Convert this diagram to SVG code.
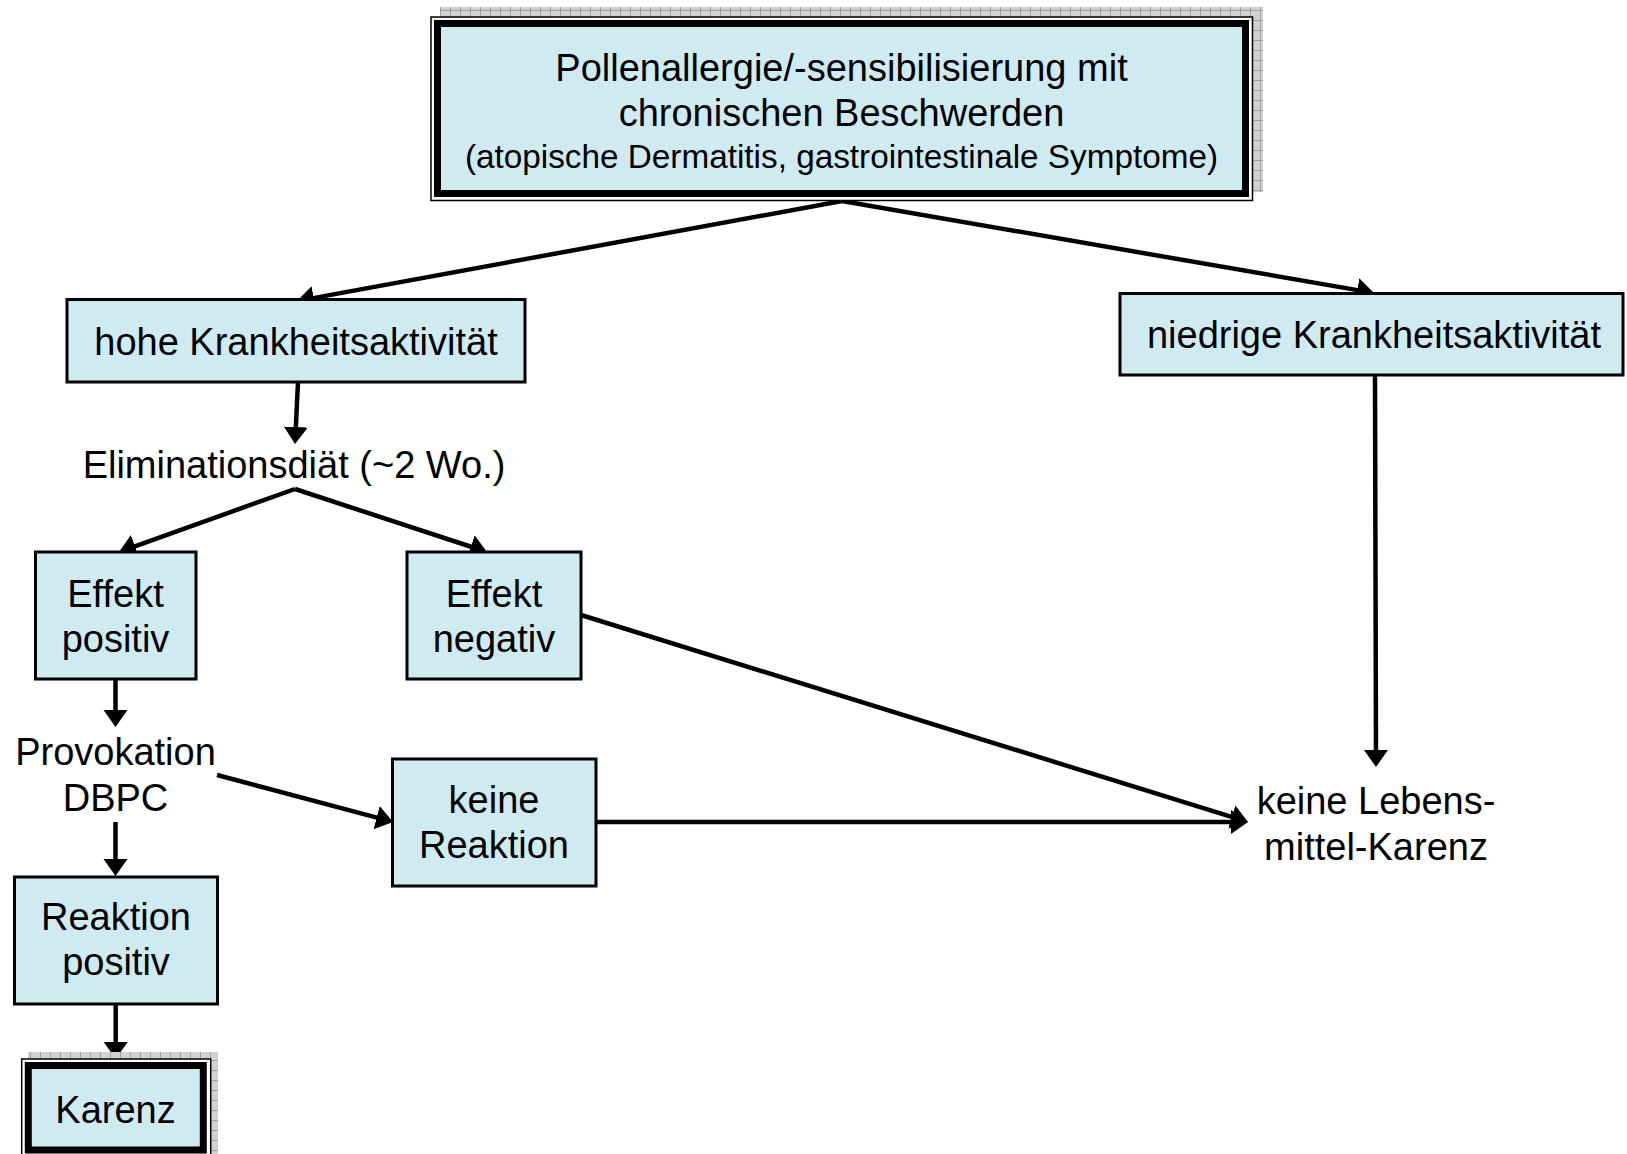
<svg xmlns="http://www.w3.org/2000/svg" width="1627" height="1154" viewBox="0 0 1627 1154">
  <style>
    .box { fill: #CFEBF1; stroke: #000; stroke-width: 3; }
    .thick { fill: #CFEBF1; stroke: #000; stroke-width: 7; }
    .frame { fill: #fff; stroke: #000; stroke-width: 1.5; }
    .shadow { fill: url(#hatch); }
    .t { font-family: "Liberation Sans", Arial, sans-serif; font-size: 38px; fill: #000; text-anchor: middle; }
    .small { font-size: 33.3px; }
    .conn line { stroke: #000; stroke-width: 4.5; marker-end: url(#arrow); }
  </style>
  <defs>
    <pattern id="hatch" width="10" height="10" patternUnits="userSpaceOnUse">
      <rect width="10" height="10" fill="#d2d2d2"/>
      <path d="M0,0.5 H10 M0.5,0 V10" stroke="#a0a0a0" stroke-width="1"/>
    </pattern>
    <marker id="arrow" markerUnits="userSpaceOnUse" markerWidth="18" markerHeight="26" refX="9" refY="12" orient="auto">
      <path d="M0,0 L17,12 L0,24 z" fill="#000"/>
    </marker>
  </defs>
  <rect width="1627" height="1154" fill="#fff"/>

  <g id="connectors" class="conn">
    <line x1="842" y1="201" x2="304.9" y2="299.6"/>
    <line x1="842" y1="201" x2="1366.1" y2="291.6"/>
    <line x1="298" y1="382" x2="295.4" y2="436"/>
    <line x1="295" y1="489" x2="126.5" y2="549.3"/>
    <line x1="295" y1="489" x2="479.4" y2="549.5"/>
    <line x1="115.5" y1="679" x2="115.5" y2="719"/>
    <line x1="581" y1="615" x2="1240.4" y2="819.6"/>
    <line x1="217" y1="775" x2="385.3" y2="819.9"/>
    <line x1="115.5" y1="822" x2="115.5" y2="868"/>
    <line x1="596" y1="822" x2="1240" y2="822"/>
    <line x1="115.7" y1="1004" x2="115.7" y2="1051"/>
    <line x1="1375" y1="375" x2="1376" y2="759"/>
  </g>

  <g id="node-top">
    <rect class="shadow" x="440" y="7" width="823" height="185"/>
    <rect class="frame" x="431" y="17" width="821.5" height="183.5"/>
    <rect class="thick" x="437.5" y="23.5" width="808" height="170"/>
    <text class="t" x="841.5" y="81">Pollenallergie/-sensibilisierung mit</text>
    <text class="t" x="841.5" y="126">chronischen Beschwerden</text>
    <text class="t small" x="841.5" y="168">(atopische Dermatitis, gastrointestinale Symptome)</text>
  </g>

  <g id="node-hohe">
    <rect class="box" x="67" y="299.5" width="458" height="82.5"/>
    <text class="t" x="296" y="355">hohe Krankheitsaktivität</text>
  </g>

  <g id="node-niedrige">
    <rect class="box" x="1120" y="293.5" width="503" height="81.5"/>
    <text class="t" x="1374" y="348">niedrige Krankheitsaktivität</text>
  </g>

  <g id="node-elimination">
    <text class="t" x="294" y="478">Eliminationsdiät (~2 Wo.)</text>
  </g>

  <g id="node-effekt-positiv">
    <rect class="box" x="35.5" y="552" width="160.5" height="127"/>
    <text class="t" x="115.5" y="607">Effekt</text>
    <text class="t" x="115.5" y="652">positiv</text>
  </g>

  <g id="node-effekt-negativ">
    <rect class="box" x="407" y="552" width="174" height="127"/>
    <text class="t" x="494" y="607">Effekt</text>
    <text class="t" x="494" y="652">negativ</text>
  </g>

  <g id="node-provokation">
    <text class="t" x="115.5" y="765">Provokation</text>
    <text class="t" x="115.5" y="811">DBPC</text>
  </g>

  <g id="node-keine-reaktion">
    <rect class="box" x="392.5" y="759" width="203.5" height="127"/>
    <text class="t" x="494" y="813">keine</text>
    <text class="t" x="494" y="858">Reaktion</text>
  </g>

  <g id="node-reaktion-positiv">
    <rect class="box" x="14.5" y="877" width="203" height="127"/>
    <text class="t" x="116" y="930">Reaktion</text>
    <text class="t" x="116" y="975">positiv</text>
  </g>

  <g id="node-karenz">
    <rect class="shadow" x="28" y="1052" width="190" height="110"/>
    <rect class="frame" x="21.7" y="1059" width="189" height="100"/>
    <rect class="thick" x="28.3" y="1065.5" width="175" height="84.5"/>
    <text class="t" x="115.5" y="1123">Karenz</text>
  </g>

  <g id="node-keine-lebensmittel-karenz">
    <text class="t" x="1376" y="814">keine Lebens-</text>
    <text class="t" x="1376" y="860">mittel-Karenz</text>
  </g>
</svg>
